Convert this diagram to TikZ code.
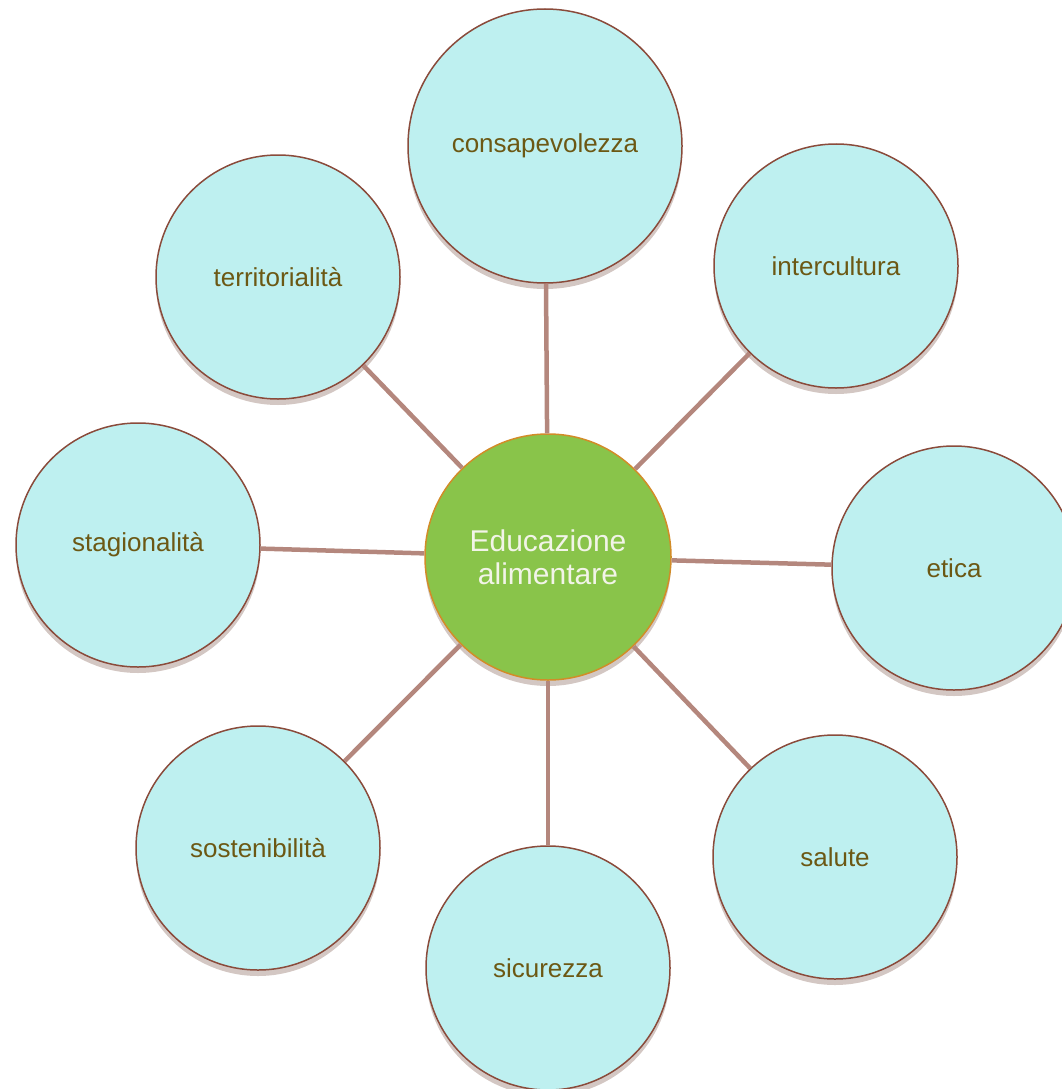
\documentclass[tikz,border=0pt]{standalone}
\usepackage{fontspec}
\setmainfont{Liberation Sans}
\usetikzlibrary{shadows}

\definecolor{topicfill}{RGB}{190,240,240}
\definecolor{topicrim}{RGB}{138,75,59}
\definecolor{topictext}{RGB}{108,88,20}
\definecolor{hubfill}{RGB}{137,196,74}
\definecolor{hubrim}{RGB}{210,140,40}
\definecolor{hubtext}{RGB}{242,244,232}
\definecolor{spokecol}{RGB}{180,135,125}
\definecolor{shadowbrown}{RGB}{110,70,55}

\begin{document}
\begin{tikzpicture}[x=1pt,y=-1pt,
    topic/.style={circle, draw=topicrim, line width=1.5pt, fill=topicfill,
      text=topictext, minimum size=244pt, inner sep=0pt,
      font=\fontsize{26}{31}\selectfont,
      drop shadow={shadow xshift=0pt, shadow yshift=-6pt,
        fill=shadowbrown, opacity=0.3}},
    hub/.style={circle, draw=hubrim, line width=1.5pt, fill=hubfill,
      text=hubtext, minimum size=246pt, inner sep=0pt, align=center,
      font=\fontsize{30}{33}\selectfont,
      drop shadow={shadow xshift=0pt, shadow yshift=-6pt,
        fill=shadowbrown, opacity=0.3}},
    spoke/.style={draw=spokecol, line width=4.5pt}]
    \useasboundingbox (0,0) rectangle (1062,1089);% Page size of the reference

    \node[hub] (Centre) at (548,557) {Educazione\\alimentare};

    \node[topic, minimum size=274pt] (Consapevolezza) at (545,146) {consapevolezza};
    \node[topic] (Intercultura)   at (836,266) {intercultura};
    \node[topic] (Etica)          at (954,568) {etica};
    \node[topic] (Salute)         at (835,857) {salute};
    \node[topic] (Sicurezza)      at (548,968) {sicurezza};
    \node[topic] (Sostenibilita)  at (258,848) {sostenibilità};
    \node[topic] (Stagionalita)   at (138,545) {stagionalità};
    \node[topic] (Territorialita) at (278,277) {territorialità};

    % One spoke from the centre to every topic
    \foreach \topic in {Consapevolezza,Intercultura,Etica,Salute,
                        Sicurezza,Sostenibilita,Stagionalita,Territorialita}{
      \draw[spoke] (Centre) -- (\topic);
    }
\end{tikzpicture}
\end{document}
